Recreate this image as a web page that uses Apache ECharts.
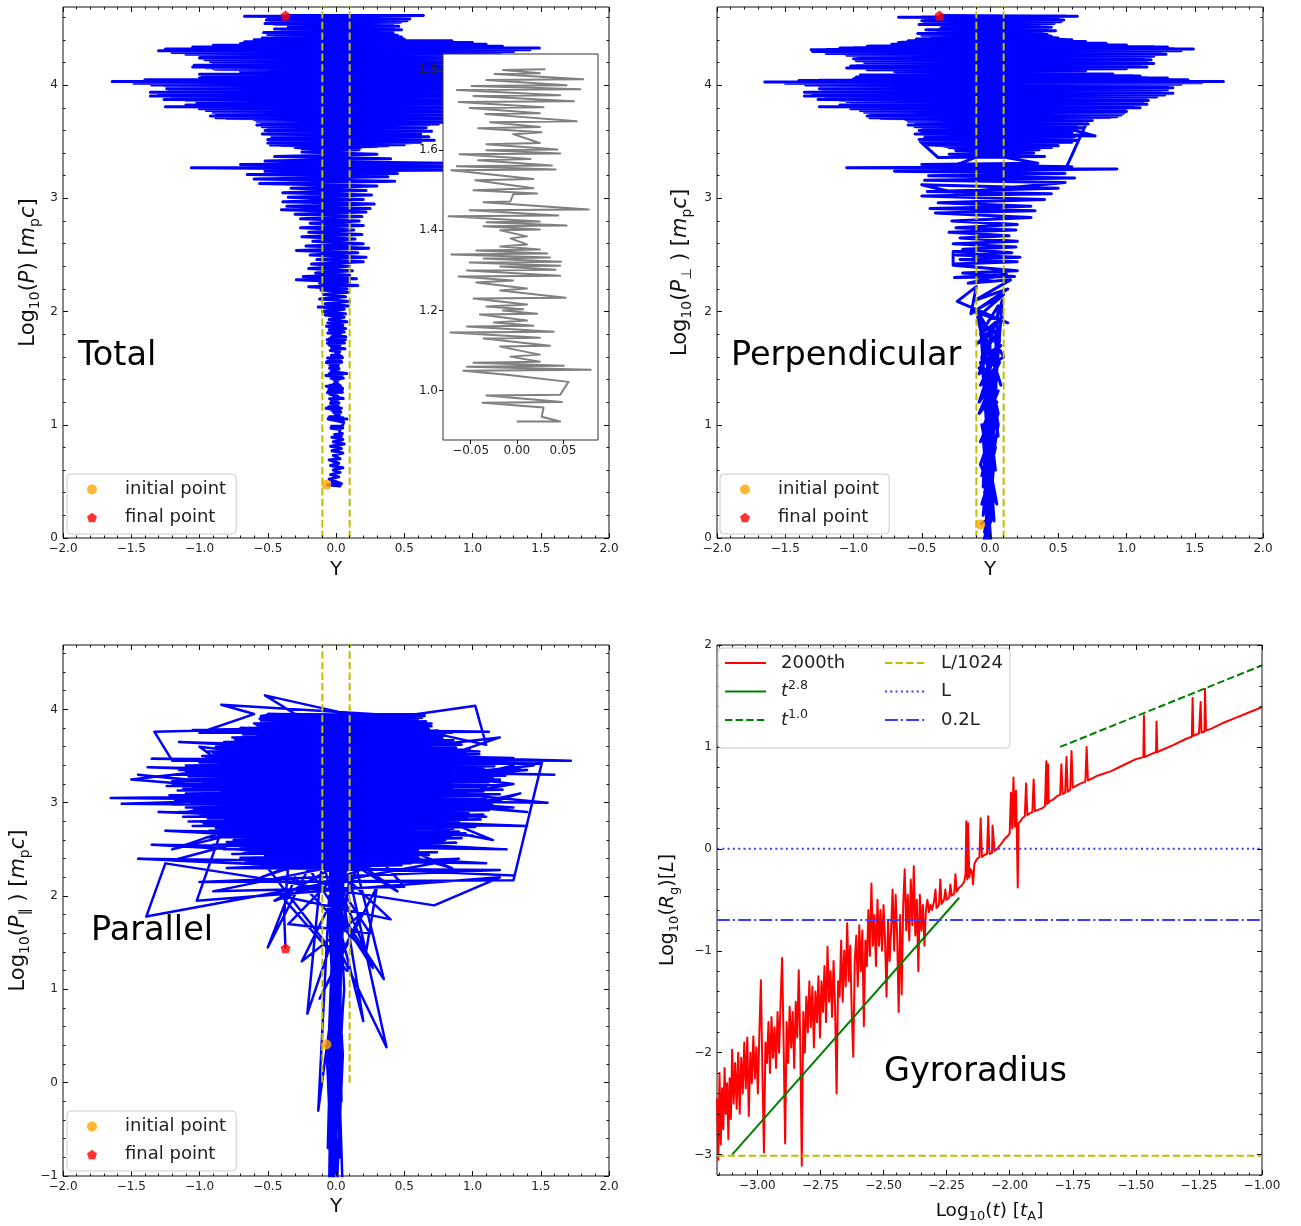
<!DOCTYPE html>
<html>
<head>
<meta charset="utf-8">
<script src="https://cdn.jsdelivr.net/npm/echarts@6/dist/echarts.min.js"></script>
<style>
html,body{margin:0;padding:0;background:#fff}
#chart{width:1301px;height:1226px}
</style>
</head>
<body>
<div id="chart"></div>
<script>
// ---- tick labels ----
const posTicks = [-2, -1.5, -1, -0.5, 0, 0.5, 1, 1.5, 2];
const momTicks = [0, 1, 2, 3, 4];
const parTicks = [-1, 0, 1, 2, 3, 4];
const timeTicks = [-3, -2.75, -2.5, -2.25, -2, -1.75, -1.5, -1.25, -1];
const gyroTicks = [-3, -2, -1, 0, 1, 2];
const zoomXTicks = [-0.05, 0, 0.05];
const zoomYTicks = [1.0, 1.2, 1.4, 1.6, 1.8];

// ---- trajectory in (Y, log10 P) : flat x,y pairs ----
const totalLow = [
-0.07,0.47, 0.03,0.46, -0.03,0.49, 0.04,0.48, -0.05,0.52, 0.02,0.54, -0.04,0.56, 0.03,0.58, -0.02,0.6, 0.05,0.62,
-0.04,0.64, 0.02,0.66, -0.05,0.69, 0.03,0.7, -0.02,0.73, 0.05,0.75, -0.03,0.77, 0.04,0.79, -0.04,0.81, 0.06,0.83,
-0.02,0.85, 0.05,0.87, -0.03,0.89, 0.04,0.9, -0.01,0.915
];
// stretch of the same trajectory shown in the zoom panel
const zoomPath = [
0.0,0.923, 0.047,0.923, 0.027,0.935, 0.029,0.958, -0.037,0.97, 0.049,0.972, -0.033,0.988, 0.047,0.99, 0.056,1.022, -0.011,1.04,
-0.058,1.05, 0.08,1.052, -0.054,1.06, 0.051,1.062, -0.047,1.07, 0.025,1.072, -0.007,1.085, 0.025,1.09, -0.018,1.11, 0.036,1.112,
-0.036,1.13, 0.025,1.132, -0.072,1.145, 0.04,1.147, -0.054,1.16, 0.018,1.162, -0.025,1.17, 0.011,1.175, -0.04,1.19, 0.022,1.192,
-0.015,1.2, 0.007,1.203, -0.033,1.21, 0.011,1.215, -0.047,1.23, 0.053,1.232, -0.018,1.25, 0.011,1.255, -0.044,1.27, -0.004,1.275,
-0.063,1.285, 0.047,1.287, -0.054,1.3, 0.042,1.302, -0.018,1.31, 0.047,1.312, -0.051,1.32, 0.048,1.322, -0.036,1.33, 0.036,1.332,
-0.071,1.34, 0.033,1.342, -0.044,1.35, 0.025,1.352, -0.018,1.36, 0.011,1.365, -0.007,1.38, 0.011,1.385, -0.018,1.4, 0.025,1.402,
-0.036,1.41, 0.054,1.412, -0.033,1.42, 0.025,1.422, -0.074,1.435, 0.045,1.437, -0.051,1.45, 0.078,1.452, -0.036,1.47, -0.007,1.472,
-0.004,1.49, 0.022,1.492, -0.047,1.5, 0.018,1.505, -0.045,1.525, 0.018,1.528, -0.071,1.55, 0.042,1.552, -0.065,1.56, 0.038,1.562,
-0.042,1.575, 0.015,1.578, -0.062,1.59, 0.047,1.592, -0.033,1.6, 0.044,1.602, -0.033,1.615, 0.025,1.618, -0.004,1.64, 0.027,1.645,
-0.042,1.655, 0.025,1.658, -0.029,1.67, 0.065,1.672, -0.034,1.69, 0.025,1.692, -0.051,1.705, 0.029,1.707, -0.063,1.72, 0.062,1.722,
-0.047,1.735, 0.047,1.737, -0.065,1.75, 0.069,1.752, -0.049,1.76, 0.054,1.762, -0.033,1.775, 0.072,1.777, -0.024,1.79, 0.025,1.792,
-0.015,1.8, 0.031,1.802
];
const totalMid = [
-0.06,1.81, 0.06,1.82, -0.05,1.84, 0.07,1.85, -0.07,1.87, 0.05,1.88, -0.06,1.9, 0.08,1.91, -0.05,1.93, 0.06,1.95,
-0.08,1.97, 0.07,1.98, -0.1,2.0, 0.06,2.02, -0.13,2.04, 0.09,2.05, -0.08,2.07, 0.1,2.09, -0.12,2.11, 0.07,2.13,
-0.09,2.15, 0.09,2.17, -0.11,2.19, 0.08,2.2, -0.2,2.22, 0.16,2.23, -0.12,2.25, 0.1,2.26, -0.29,2.28, 0.15,2.29,
-0.24,2.31, 0.1,2.32, -0.15,2.34, 0.12,2.36, -0.2,2.38, 0.1,2.4, -0.18,2.42, 0.2,2.44, -0.14,2.46, 0.22,2.48,
-0.19,2.5, 0.16,2.52, -0.29,2.54, 0.24,2.56, -0.22,2.58, 0.2,2.6, -0.17,2.62, 0.14,2.64, -0.25,2.66, 0.19,2.68,
-0.2,2.7, 0.13,2.72, -0.26,2.74, 0.2,2.76, -0.19,2.78, 0.17,2.8, -0.26,2.82, 0.19,2.84, -0.3,2.86, 0.22,2.88,
-0.4,2.9, 0.25,2.91, -0.36,2.93, 0.28,2.95, -0.39,2.97, 0.2,2.99, -0.35,3.01, 0.26,3.03, -0.39,3.05, 0.22,3.07,
-0.33,3.09, 0.3,3.11, -0.56,3.13, 0.43,3.15, -0.6,3.17, 0.38,3.19, -0.65,3.21, 0.45,3.22, -0.52,3.24, 0.92,3.25,
-1.06,3.27, 0.98,3.28, -0.7,3.3, 0.85,3.31, -0.52,3.33, 0.4,3.35, -0.45,3.37, 0.3,3.39, -0.25,3.41, 0.17,3.43
];
// first climb through the high-momentum band
const totalCore = [
-0.3,3.45, 0.3,3.458, -0.4,3.466, 0.5,3.474, -0.45,3.482, 0.55,3.49, -0.45,3.498, 0.6,3.506, -0.48,3.514, 0.6,3.522,
-0.46,3.53, 0.62,3.538, -0.45,3.546, 0.6,3.554, -0.48,3.562, 0.62,3.57, -0.47,3.578, 0.6,3.586, -0.5,3.594, 0.62,3.602,
-0.48,3.61, 0.64,3.618, -0.5,3.626, 0.65,3.634, -0.52,3.642, 0.68,3.65, -0.5,3.658, 0.7,3.666, -0.55,3.674, 0.75,3.682,
-0.58,3.69, 0.8,3.698, -0.8,3.706, 0.85,3.714, -0.85,3.722, 0.88,3.73, -0.85,3.738, 0.9,3.746, -0.88,3.754, 0.92,3.762,
-0.9,3.77, 0.95,3.778, -0.95,3.786, 1.0,3.794, -1.0,3.802, 1.02,3.81, -1.02,3.818, 1.05,3.826, -1.0,3.834, 1.05,3.842,
-1.02,3.85, 1.08,3.858, -1.1,3.866, 1.1,3.874, -1.15,3.882, 1.15,3.89, -1.2,3.898, 1.2,3.906, -1.25,3.914, 1.22,3.922,
-1.28,3.93, 1.25,3.938, -1.22,3.946, 1.28,3.954, -1.2,3.962, 1.3,3.97, -1.2,3.978, 1.32,3.986, -1.25,3.994, 1.35,4.002,
-1.3,4.01, 1.4,4.018, -1.35,4.026, 1.45,4.034, -1.25,4.042, 1.35,4.05, -0.98,4.058, 1.2,4.066, -0.95,4.074, 1.1,4.082,
-0.95,4.09, 1.05,4.098, -0.68,4.106, 0.9,4.114, -0.7,4.122, 0.9,4.13, -0.88,4.138, 1.0,4.146, -0.95,4.154, 1.05,4.162,
-0.98,4.17, 1.0,4.178, -0.9,4.186, 1.0,4.194, -0.9,4.202, 0.95,4.21, -0.92,4.218, 1.0,4.226, -0.95,4.234, 1.02,4.242,
-0.96,4.25, 1.05,4.258, -1.0,4.266, 1.1,4.274, -1.1,4.282, 1.2,4.29, -1.15,4.298, 1.25,4.306, -1.2,4.314, 1.3,4.322,
-1.0,4.33, 1.15,4.338, -0.88,4.346, 1.0,4.354, -0.7,4.362, 0.9,4.37, -0.65,4.378, 0.8,4.386, -0.55,4.394, 0.5,4.402,
-0.5,4.41, 0.45,4.418, -0.4,4.426, 0.42,4.434, -0.45,4.442, 0.4,4.45, -0.45,4.458, 0.38,4.466, -0.36,4.474, 0.42,4.482,
-0.4,4.49, 0.4,4.498, -0.34,4.506, 0.42,4.514, -0.34,4.522, 0.35,4.53, -0.45,4.538, 0.42,4.546, -0.46,4.554, 0.48,4.562,
-0.48,4.57, 0.5,4.578, -0.44,4.586, 0.48,4.594, -0.5,4.602, 0.55,4.61, 0.0,4.61
];
const totalHigh = [
-0.25,3.44, 0.18,3.448, -0.22,3.456, 0.38,3.464, -0.48,3.472, 0.3,3.48, -0.5,3.488, 0.62,3.496, -0.35,3.504, 0.72,3.512,
-0.5,3.52, 0.55,3.528, -0.47,3.536, 0.68,3.544, -0.42,3.552, 0.62,3.56, -0.54,3.568, 0.5,3.576, -0.48,3.584, 0.7,3.592,
-0.52,3.6, 0.6,3.608, -0.45,3.616, 0.66,3.624, -0.54,3.632, 0.58,3.64, -0.58,3.648, 0.75,3.656, -0.5,3.664, 0.9,3.672,
-0.58,3.68, 0.82,3.688, -0.6,3.696, 0.95,3.704, -0.88,3.712, 0.86,3.72, -0.92,3.728, 1.0,3.736, -0.86,3.744, 0.92,3.752,
-0.9,3.76, 1.05,3.768, -0.95,3.776, 0.98,3.784, -1.0,3.792, 1.1,3.8, -1.25,3.808, 1.02,3.816, -1.1,3.824, 1.15,3.832,
-0.98,3.84, 1.05,3.848, -1.02,3.856, 1.2,3.864, -1.26,3.872, 1.12,3.88, -1.18,3.888, 1.3,3.896, -1.36,3.904, 1.22,3.912,
-1.3,3.92, 1.35,3.928, -1.36,3.936, 1.28,3.944, -1.22,3.952, 1.42,3.96, -1.24,3.968, 1.38,3.976, -1.2,3.984, 1.5,3.992,
-1.35,4.0, 1.45,4.008, -1.48,4.016, 1.6,4.024, -1.64,4.032, 1.74,4.04, -1.4,4.048, 1.55,4.056, -1.0,4.064, 1.3,4.072,
-0.98,4.08, 1.2,4.088, -1.0,4.096, 1.1,4.104, -0.65,4.112, 0.92,4.12, -0.7,4.128, 1.0,4.136, -0.9,4.144, 1.16,4.152,
-1.05,4.16, 1.1,4.168, -1.04,4.176, 1.0,4.184, -0.9,4.192, 1.12,4.2, -0.92,4.208, 0.95,4.216, -0.96,4.224, 1.05,4.232,
-1.0,4.24, 1.1,4.248, -0.98,4.256, 1.12,4.264, -1.1,4.272, 1.2,4.28, -1.2,4.288, 1.3,4.296, -1.3,4.304, 1.42,4.312,
-1.25,4.32, 1.49,4.328, -1.05,4.336, 1.22,4.344, -0.9,4.352, 1.1,4.36, -0.7,4.368, 1.0,4.376, -0.67,4.384, 0.85,4.392,
-0.6,4.4, 0.5,4.408, -0.54,4.416, 0.48,4.424, -0.4,4.432, 0.45,4.44, -0.5,4.448, 0.42,4.456, -0.53,4.464, 0.38,4.472,
-0.36,4.48, 0.48,4.488, -0.45,4.496, 0.4,4.504, -0.35,4.512, 0.46,4.52, -0.34,4.528, 0.35,4.536, -0.52,4.544, 0.47,4.552,
-0.48,4.56, 0.52,4.568, -0.51,4.576, 0.54,4.584, -0.45,4.592, 0.5,4.6, -0.67,4.608, 0.64,4.616, -0.37,4.615
];

// ---- trajectory in (Y, log10 P_perp) ----
const perpLow = [
-0.07,0.12, 0.02,0.2, -0.05,-0.05, 0.03,0.35, -0.04,0.05, 0.02,0.5, -0.06,0.3, 0.03,0.65, -0.04,0.4, 0.04,0.8,
-0.06,0.55, 0.02,0.95, -0.05,0.7, 0.04,1.05, -0.07,0.85, 0.05,1.2, -0.05,0.98, 0.06,1.3, -0.08,1.1, 0.04,1.45,
-0.06,1.25, 0.07,1.55, -0.07,1.35, 0.05,1.65, -0.08,1.5, 0.08,1.7, -0.06,1.6, 0.07,1.85, -0.09,1.72, 0.09,1.95,
-0.07,1.8, 0.06,2.05, -0.03,0.1, 0.01,-0.1, -0.05,0.9, 0.03,0.15, -0.04,1.3, 0.04,0.6, -0.06,1.6, 0.01,0.4,
-0.07,1.9, 0.06,1.0, -0.05,0.2, 0.04,1.4, -0.08,1.2, 0.07,1.75, -0.04,0.75, 0.03,1.15, -0.07,1.55, 0.06,0.9,
-0.06,1.85, 0.08,1.35, -0.09,2.0, 0.1,1.6, -0.08,1.45, 0.09,2.1, -0.03,0.25, 0.0,1.7, -0.05,0.45, 0.05,1.5,
-0.02,-0.1, 0.03,0.7, -0.06,1.0, 0.05,0.3, -0.07,0.65, 0.06,1.1, -0.09,1.95, 0.1,2.15, -0.12,2.0, 0.13,1.9,
-0.24,2.09, -0.1,2.22, -0.14,1.98, 0.13,2.2, -0.11,2.1, 0.15,2.28, -0.16,2.25, 0.12,2.33
];
const perpMid = [
-0.26,2.3, 0.18,2.31, -0.2,2.34, 0.2,2.36, -0.27,2.41, -0.27,2.53, -0.12,2.53, -0.12,2.41, -0.27,2.42, 0.2,2.44,
-0.22,2.46, 0.22,2.48, -0.25,2.5, 0.16,2.52, -0.2,2.55, 0.19,2.57, -0.27,2.6, 0.2,2.62, -0.22,2.65, 0.14,2.67,
-0.3,2.7, 0.19,2.72, -0.25,2.74, 0.2,2.77, -0.28,2.8, 0.3,2.83, -0.4,2.87, 0.33,2.89, -0.44,2.91, 0.3,2.93,
-0.38,2.96, 0.4,2.99, -0.5,3.02, 0.45,3.04, -0.46,3.06, 0.5,3.09, -0.5,3.12, -0.26,3.05, 0.55,3.14, -0.48,3.16,
0.62,3.18, -0.45,3.2, 0.55,3.22, -0.7,3.24, 0.93,3.26, -1.05,3.27, 0.6,3.28, -0.5,3.3, 0.35,3.31, -0.51,3.5,
-0.38,3.36, 0.4,3.37, -0.3,3.39, 0.32,3.4, -0.25,3.42, 0.36,3.43
];
const perpCore = [
-0.3,3.45, 0.35,3.458, -0.4,3.466, 0.45,3.474, -0.45,3.482, 0.5,3.49, -0.45,3.498, 0.55,3.506, -0.48,3.514, 0.58,3.522,
-0.46,3.53, 0.6,3.538, -0.45,3.546, 0.58,3.554, -0.48,3.562, 0.6,3.57, -0.47,3.578, 0.6,3.586, -0.5,3.594, 0.6,3.602,
-0.48,3.61, 0.62,3.618, -0.5,3.626, 0.62,3.634, -0.52,3.642, 0.64,3.65, -0.5,3.658, 0.66,3.666, -0.55,3.674, 0.68,3.682,
-0.58,3.69, 0.7,3.698, -0.8,3.706, 0.88,3.714, -0.85,3.722, 0.92,3.73, -0.85,3.738, 0.94,3.746, -0.88,3.754, 0.95,3.762,
-0.9,3.77, 0.95,3.778, -0.95,3.786, 1.0,3.794, -1.0,3.802, 1.02,3.81, -1.02,3.818, 1.05,3.826, -1.0,3.834, 1.08,3.842,
-1.02,3.85, 1.1,3.858, -1.1,3.866, 1.12,3.874, -1.15,3.882, 1.15,3.89, -1.2,3.898, 1.2,3.906, -1.25,3.914, 1.24,3.922,
-1.28,3.93, 1.25,3.938, -1.22,3.946, 1.25,3.954, -1.2,3.962, 1.28,3.97, -1.2,3.978, 1.25,3.986, -1.25,3.994, 1.3,4.002,
-1.3,4.01, 1.38,4.018, -1.35,4.026, 1.42,4.034, -1.25,4.042, 1.3,4.05, -0.98,4.058, 1.15,4.066, -0.95,4.074, 1.05,4.082,
-0.95,4.09, 0.9,4.098, -0.68,4.106, 0.56,4.114, -0.7,4.122, 0.7,4.13, -0.88,4.138, 0.98,4.146, -0.95,4.154, 1.1,4.162,
-0.98,4.17, 1.05,4.178, -0.9,4.186, 1.12,4.194, -0.9,4.202, 1.1,4.21, -0.92,4.218, 1.12,4.226, -0.95,4.234, 1.1,4.242,
-0.96,4.25, 1.15,4.258, -1.0,4.266, 1.2,4.274, -1.1,4.282, 1.22,4.29, -1.15,4.298, 1.3,4.306, -1.2,4.314, 1.35,4.322,
-1.0,4.33, 1.2,4.338, -0.88,4.346, 1.0,4.354, -0.7,4.362, 0.85,4.37, -0.65,4.378, 0.7,4.386, -0.55,4.394, 0.55,4.402,
-0.5,4.41, 0.48,4.418, -0.4,4.426, 0.44,4.434, -0.45,4.442, 0.4,4.45, -0.45,4.458, 0.38,4.466, -0.36,4.474, 0.42,4.482,
-0.4,4.49, 0.4,4.498, -0.34,4.506, 0.42,4.514, -0.34,4.522, 0.36,4.53, -0.45,4.538, 0.44,4.546, -0.46,4.554, 0.48,4.562,
-0.48,4.57, 0.5,4.578, -0.44,4.586, 0.48,4.594, -0.5,4.602, 0.55,4.61, 0.0,4.61
];
const perpHigh = [
-0.26,3.44, 0.45,3.448, -0.3,3.456, 0.5,3.464, -0.45,3.472, 0.44,3.48, -0.5,3.488, 0.6,3.496, -0.4,3.504, 0.64,3.512,
-0.52,3.52, 0.5,3.528, -0.48,3.536, 0.62,3.544, -0.43,3.552, 0.66,3.56, -0.55,3.568, 0.58,3.576, -0.5,3.584, 0.77,3.55,
0.62,3.6, -0.52,3.6, 0.62,3.608, -0.46,3.616, 0.68,3.624, -0.55,3.632, 0.6,3.64, -0.6,3.648, 0.72,3.656, -0.52,3.664,
0.66,3.672, -0.6,3.68, 0.75,3.688, -0.62,3.696, 0.72,3.7, 0.55,3.25, -0.3,3.27, 0.6,3.7, -0.88,3.712, 0.93,3.72,
-0.9,3.728, 0.96,3.736, -0.85,3.744, 0.98,3.752, -0.92,3.76, 1.0,3.768, -0.95,3.776, 0.95,3.784, -1.02,3.792, 1.1,3.8,
-1.25,3.808, 1.05,3.816, -1.1,3.824, 1.15,3.832, -0.98,3.84, 1.12,3.848, -1.05,3.856, 1.16,3.864, -1.26,3.872, 1.13,3.88,
-1.2,3.888, 1.22,3.896, -1.36,3.904, 1.28,3.912, -1.3,3.92, 1.34,3.928, -1.36,3.936, 1.25,3.944, -1.22,3.952, 1.3,3.96,
-1.25,3.968, 1.34,3.976, -1.2,3.984, 1.28,3.992, -1.35,4.0, 1.4,4.008, -1.5,4.016, 1.55,4.02, -1.65,4.028, 1.71,4.032,
-1.4,4.04, 1.45,4.048, -1.0,4.056, 1.3,4.064, -0.98,4.072, 1.1,4.08, -0.66,4.088, 0.9,4.096, -0.65,4.104, 0.54,4.112,
-0.7,4.12, 0.7,4.128, -0.9,4.136, 1.0,4.144, -1.05,4.152, 1.15,4.16, -1.02,4.168, 1.1,4.176, -0.9,4.184, 1.2,4.192,
-0.92,4.2, 1.15,4.208, -0.98,4.216, 1.18,4.224, -1.0,4.232, 1.12,4.24, -0.96,4.248, 1.2,4.256, -1.05,4.264, 1.29,4.272,
-1.2,4.28, 1.25,4.288, -1.3,4.296, 1.4,4.304, -1.31,4.312, 1.49,4.32, -1.1,4.328, 1.3,4.336, -0.9,4.344, 1.0,4.352,
-0.72,4.36, 0.85,4.368, -0.67,4.376, 0.7,4.384, -0.6,4.392, 0.6,4.4, -0.54,4.408, 0.5,4.416, -0.42,4.424, 0.45,4.432,
-0.5,4.44, 0.42,4.448, -0.53,4.456, 0.38,4.464, -0.38,4.472, 0.48,4.48, -0.47,4.488, 0.4,4.496, -0.36,4.504, 0.45,4.512,
-0.35,4.52, 0.36,4.528, -0.52,4.536, 0.47,4.544, -0.48,4.552, 0.52,4.56, -0.5,4.568, 0.54,4.576, -0.45,4.584, 0.5,4.592,
-0.67,4.6, 0.64,4.608, -0.37,4.615
];

// ---- trajectory in (Y, log10 P_par) ----
const parColumn = [
-0.07,0.41, -0.02,-1.3, 0.03,1.5, -0.04,-0.6, 0.02,2.6, -0.03,-1.2, 0.05,0.8, -0.05,-0.3, 0.01,3.2, -0.02,-1.1,
0.04,2.1, -0.06,0.2, 0.03,3.6, -0.01,-0.9, 0.05,-1.2, -0.04,2.9, 0.02,-0.5, 0.06,3.9, -0.05,-1.1, 0.0,3.94,
0.04,-0.2, -0.03,1.2, 0.05,3.4, -0.06,-0.7, 0.02,3.8, -0.04,-1.3, 0.06,2.4, -0.02,0.5, 0.04,3.92, -0.05,1.8,
0.03,-0.8, -0.03,3.7, 0.06,1.0, -0.05,-1.2, 0.04,3.0, -0.01,-0.4, 0.05,1.7, -0.06,3.3, 0.01,-1.0, 0.05,0.3,
0.0,1.5, 0.37,0.38, 0.1,2.2, -0.13,-0.3, -0.05,2.0, 0.35,1.11, 0.15,2.3,
-0.21,0.74, -0.1,2.4, 0.2,0.66, 0.05,2.0, 0.27,1.23, -0.2,2.3, -0.5,1.45, -0.3,2.2, 0.22,1.4, 0.3,2.1,
-0.12,0.9, 0.18,1.8, -0.25,1.3, 0.12,2.4, -0.35,1.7, 0.25,1.6, -0.15,2.5, 0.4,1.75, -0.4,2.0, 0.08,1.2
];
const parCore = [
-0.5,2.3, 0.48,2.33, -0.62,2.31, 0.55,2.35, -0.45,2.34, 0.64,2.37, -0.66,2.36, 0.5,2.4, -0.55,2.38, 0.6,2.42,
-0.7,2.41, 0.68,2.44, -0.52,2.43, 0.74,2.47, -0.76,2.45, 0.6,2.49, -0.63,2.48, 0.8,2.52, -0.82,2.5, 0.72,2.54,
-0.7,2.53, 0.88,2.57, -0.9,2.55, 0.78,2.59, -0.8,2.58, 0.92,2.62, -0.75,2.6, 0.84,2.64, -0.95,2.63, 0.95,2.67,
-0.86,2.65, 0.9,2.69, -1.0,2.68, 0.86,2.72, -0.93,2.7, 1.02,2.74, -0.88,2.73, 0.95,2.77, -1.05,2.75, 0.9,2.79,
-0.97,2.78, 1.06,2.82, -1.08,2.8, 0.96,2.84, -0.94,2.83, 1.08,2.87, -1.12,2.85, 0.97,2.89, -1.0,2.88, 1.12,2.92,
-1.15,2.9, 1.0,2.94, -1.04,2.93, 1.15,2.97, -1.1,2.95, 1.03,2.99, -1.2,2.98, 1.18,3.02, -1.06,3.0, 1.1,3.04,
-1.18,3.03, 1.05,3.07, -1.08,3.05, 1.2,3.09, -1.22,3.08, 1.08,3.12, -1.1,3.1, 1.22,3.14, -1.16,3.13, 1.1,3.17,
-1.12,3.15, 1.25,3.19, -1.24,3.18, 1.12,3.22, -1.1,3.2, 1.2,3.24, -1.2,3.23, 1.15,3.27, -1.15,3.25, 1.24,3.29,
-1.08,3.28, 1.12,3.32, -1.2,3.3, 1.18,3.34, -1.1,3.33, 1.08,3.37, -1.15,3.35, 1.16,3.39, -1.05,3.38, 1.05,3.42,
-1.1,3.4, 1.12,3.44, -1.0,3.43, 1.0,3.47, -1.05,3.45, 0.96,3.49, -0.95,3.48, 1.05,3.52, -0.98,3.5, 0.95,3.54,
-0.9,3.53, 0.98,3.57, -0.94,3.55, 0.88,3.59, -0.85,3.58, 0.92,3.62, -0.88,3.6, 0.84,3.64, -0.8,3.63, 0.86,3.67,
-0.82,3.65, 0.78,3.69, -0.74,3.68, 0.8,3.72, -0.76,3.7, 0.72,3.74, -0.68,3.73, 0.75,3.77, -0.7,3.75, 0.68,3.79,
-0.62,3.78, 0.7,3.82, -0.64,3.8, 0.64,3.84, -0.58,3.83, 0.66,3.87, -0.6,3.85, 0.6,3.89, -0.55,3.88, 0.63,3.91,
-0.56,3.9, 0.65,3.93, -0.55,3.92, 0.62,3.95, -0.5,3.94
];
const parCloud = [
-0.55,3.93, 0.62,3.94, -0.5,3.95, 0.55,3.92, -0.48,3.9, 0.65,3.95, -0.4,3.94, 0.5,3.93, -0.84,4.05, -0.6,3.95,
-1.0,3.75, 1.12,3.76, -0.7,3.8, 0.85,3.75, -1.05,3.78, 0.6,3.83, -1.33,3.76, -1.2,3.45, 1.3,3.48, -0.9,3.55,
1.72,3.45, -1.35,3.47, 1.5,3.42, -1.1,3.4, 1.6,3.3, -1.38,3.38, 1.2,3.25, -0.95,3.35, 1.55,3.0, -1.65,3.05,
0.9,3.1, -1.57,2.99, 1.3,2.95, -1.2,3.2, 1.1,2.85, -1.3,2.9, 1.4,2.75, -1.0,2.8, 1.0,2.65, -1.25,2.7,
1.25,2.5, -1.35,2.55, 1.1,2.35, -1.45,2.4, 1.3,2.22, -1.2,2.38, 1.51,3.44, 1.3,2.17, -1.0,2.15, 1.2,2.28,
-0.8,2.3, 0.9,2.4, -1.39,1.78, -1.25,2.35, 0.72,1.9, 1.2,2.2, -1.02,1.95, -0.6,3.7, 1.02,4.04, 1.1,3.62,
-0.52,4.15, -0.3,3.95, 0.75,3.65, -0.8,3.6, 1.05,3.55, -1.15,3.65, 0.8,3.5, -0.75,3.3, 1.4,3.35, -0.65,3.1,
1.45,3.4, -0.9,2.95, 0.95,3.2, -0.6,2.6, 1.25,3.05, -0.7,2.45, 1.35,3.1, -0.55,2.2, 0.7,2.9, -0.45,1.95,
0.6,2.5, -0.9,2.05, 0.5,2.1, -0.35,3.5, 1.15,2.6, -0.3,3.0, 0.85,2.3, -1.1,3.1, 0.55,3.0, -1.45,3.3,
1.4,2.9, -1.5,3.25, 1.2,3.7, -1.2,2.5, 1.3,3.4, -0.85,2.65, 1.3,3.2, -1.0,3.6, 0.45,2.05, -0.5,2.9,
0.7,3.3, -1.1,2.9, 1.0,3.0, -0.7,3.45, 1.1,3.35, -0.95,3.15, 0.9,2.8, -0.6,3.85, 0.7,3.85, -0.45,3.6,
0.5,3.7, -0.8,3.2, 0.8,2.6, -0.65,2.85, 0.6,3.15, -0.55,3.4, 0.65,3.5, -0.4,2.7, 0.4,2.8, -0.5,3.6,
0.45,3.45, -0.35,3.25, 0.5,3.1, -0.6,3.3, 0.35,3.6, -0.45,3.05, 0.55,2.7, -0.35,2.5, 0.4,3.3, -0.25,2.8,
0.3,2.6, -0.4,3.75, 0.45,3.9, -0.3,3.5, 0.3,3.2, -0.2,2.4, 0.2,2.9, -0.3,3.2, -0.38,1.8, -0.37,1.44
];

// ---- gyroradius vs time : flat (log10 t, log10 Rg) pairs ----
const gyroCurve = [
-3.16,-2.45, -3.155,-3.05, -3.15,-2.2, -3.145,-2.9, -3.14,-2.35, -3.135,-2.75, -3.13,-2.15, -3.125,-2.6, -3.12,-2.3, -3.115,-2.85,
-3.11,-2.25, -3.105,-2.65, -3.1,-1.97, -3.094,-2.5, -3.088,-2.1, -3.082,-2.55, -3.076,-2.0, -3.07,-2.6, -3.064,-2.05, -3.058,-2.4,
-3.052,-1.9, -3.046,-2.35, -3.04,-1.85, -3.034,-2.62, -3.028,-2.0, -3.022,-2.3, -3.016,-1.84, -3.01,-2.25, -3.004,-1.95, -2.998,-2.4,
-2.992,-1.8, -2.986,-1.29, -2.98,-2.2, -2.974,-2.98, -2.968,-1.9, -2.962,-2.1, -2.956,-1.7, -2.95,-2.2, -2.944,-1.65, -2.938,-2.05,
-2.932,-1.75, -2.926,-2.15, -2.92,-1.6, -2.914,-2.0, -2.908,-1.5, -2.902,-1.07, -2.896,-1.9, -2.89,-2.89, -2.884,-1.7, -2.878,-2.1,
-2.872,-1.55, -2.866,-1.95, -2.86,-1.6, -2.854,-2.15, -2.848,-1.5, -2.842,-1.85, -2.836,-1.19, -2.83,-1.9, -2.824,-3.11, -2.818,-1.6,
-2.812,-2.0, -2.806,-1.45, -2.8,-1.8, -2.794,-1.3, -2.788,-1.75, -2.782,-1.35, -2.776,-1.95, -2.77,-1.4, -2.764,-1.7, -2.758,-1.25,
-2.752,-1.85, -2.746,-1.3, -2.74,-1.6, -2.734,-1.15, -2.728,-1.7, -2.722,-0.96, -2.716,-1.5, -2.71,-1.2, -2.704,-1.65, -2.698,-1.1,
-2.692,-1.55, -2.686,-2.4, -2.68,-1.3, -2.674,-1.45, -2.668,-0.9, -2.662,-1.5, -2.656,-1.0, -2.65,-1.35, -2.644,-0.73, -2.638,-1.3,
-2.632,-0.95, -2.626,-1.6, -2.62,-2.04, -2.614,-1.1, -2.608,-0.85, -2.602,-1.35, -2.596,-0.75, -2.59,-1.2, -2.584,-0.8, -2.578,-1.74,
-2.572,-0.9, -2.566,-1.15, -2.56,-0.6, -2.554,-1.05, -2.548,-0.34, -2.542,-0.95, -2.536,-0.65, -2.53,-1.15, -2.524,-0.5, -2.518,-0.95,
-2.512,-0.6, -2.506,-1.0, -2.5,-0.55, -2.494,-0.9, -2.488,-1.45, -2.482,-0.7, -2.476,-1.1, -2.47,-0.8, -2.464,-0.4, -2.458,-1.0,
-2.452,-0.45, -2.446,-0.85, -2.44,-1.6, -2.434,-0.65, -2.428,-1.43, -2.422,-0.55, -2.416,-0.2, -2.41,-0.8, -2.404,-0.45, -2.398,-0.9,
-2.392,-0.3, -2.386,-0.75, -2.38,-0.17, -2.374,-0.85, -2.368,-0.5, -2.362,-1.2, -2.356,-0.45, -2.35,-0.8, -2.344,-0.55, -2.338,-0.95,
-2.332,-0.6, -2.326,-0.5, -2.32,-0.62, -2.314,-0.55, -2.308,-0.6, -2.3,-0.52, -2.294,-0.4, -2.29,-0.58, -2.28,-0.55, -2.275,-0.3,
-2.27,-0.54, -2.26,-0.5, -2.255,-0.4, -2.25,-0.5, -2.24,-0.48, -2.235,-0.35, -2.23,-0.46, -2.22,-0.44, -2.215,-0.25, -2.21,-0.42,
-2.2,-0.38, -2.19,-0.36, -2.18,-0.32, -2.175,-0.25, -2.172,0.27, -2.168,-0.3, -2.165,0.25, -2.16,-0.28, -2.155,-0.2, -2.15,-0.22,
-2.145,-0.35, -2.14,-0.15, -2.13,-0.1, -2.12,-0.08, -2.115,0.3, -2.11,-0.08, -2.1,-0.06, -2.09,-0.05, -2.085,0.32, -2.08,-0.05,
-2.07,-0.04, -2.068,0.23, -2.06,-0.02, -2.05,0.0, -2.04,0.03, -2.03,0.06, -2.02,0.1, -2.01,0.12, -2.0,0.15, -1.995,0.55,
-1.99,0.2, -1.985,0.7, -1.98,0.22, -1.975,0.57, -1.972,0.2, -1.968,-0.38, -1.965,0.25, -1.955,0.28, -1.95,0.3, -1.94,0.32,
-1.935,0.64, -1.93,0.33, -1.92,0.35, -1.91,0.36, -1.905,0.68, -1.9,0.37, -1.88,0.39, -1.87,0.4, -1.86,0.42, -1.855,0.86,
-1.852,0.44, -1.848,0.83, -1.845,0.45, -1.84,0.47, -1.83,0.48, -1.82,0.5, -1.81,0.52, -1.8,0.53, -1.795,0.83, -1.79,0.54,
-1.78,0.55, -1.775,0.9, -1.77,0.56, -1.76,0.58, -1.755,0.96, -1.75,0.6, -1.72,0.64, -1.7,0.66, -1.695,1.0, -1.69,0.67,
-1.65,0.72, -1.6,0.76, -1.55,0.82, -1.5,0.88, -1.47,0.9, -1.468,1.31, -1.465,0.9, -1.44,0.93, -1.42,0.95, -1.418,1.25,
-1.415,0.95, -1.35,1.02, -1.3,1.08, -1.278,1.1, -1.275,1.48, -1.272,1.11, -1.25,1.13, -1.243,1.44, -1.24,1.14, -1.228,1.15,
-1.226,1.57, -1.222,1.16, -1.2,1.18, -1.15,1.24, -1.1,1.29, -1.05,1.34, -1.0,1.39
];
const fitSteep = [-3.1, -3.0, -2.2, -0.48];   // t^2.8 guide: x0,y0,x1,y1
const fitLinear = [-1.8, 1.0, -1.0, 1.8];     // t^1.0 guide
const gridScale = -3.0103;                    // log10(L/1024)
const boxScale = 0.0;                         // log10(L)
const fifthScale = -0.699;                    // log10(0.2L)
const bandEdges = [-0.1, 0.1];

// ---- helpers ----
const FONT = 'DejaVu Sans';
const MINUS = '\u2212';
const fmt = d => v => (v < -1e-9 ? MINUS : '') + Math.abs(v).toFixed(d);
function steps(a, b, s) { const n = Math.round((b - a) / s); const o = []; for (let i = 0; i <= n; i++) o.push(+(a + i * s).toFixed(4)); return o; }
function pairs(flat) { const o = []; for (let i = 0; i < flat.length; i += 2) o.push([flat[i], flat[i + 1]]); return o; }

function nameStyle(size) {
  const sub = Math.round(size * 0.68);
  return { fontFamily: FONT, fontSize: size, color: '#111', lineHeight: size + 6,
    rich: {
      s: { fontSize: sub, lineHeight: sub, verticalAlign: 'bottom', fontFamily: FONT },
      i: { fontStyle: 'italic', fontFamily: FONT, fontSize: size, lineHeight: size + 6 }
    } };
}

const xAxes = [], yAxes = [];
function axis(gi, pos, s, ticks, len, withLabel, o) {
  const a = {
    type: 'value', gridIndex: gi, position: pos, min: s.min, max: s.max, z: o.z,
    axisLine: { show: false, onZero: false }, splitLine: { show: false },
    axisTick: { show: true, inside: o.inside, length: len, customValues: ticks, lineStyle: { color: '#111', width: 1 } },
    axisLabel: { show: withLabel, customValues: s.major, formatter: s.fmt, fontFamily: FONT, fontSize: 12, color: '#222', margin: o.margin }
  };
  if (withLabel && s.name) {
    Object.assign(a, { name: s.name, nameLocation: 'middle', nameGap: s.gap, nameTextStyle: nameStyle(s.size) });
    if (pos === 'left') a.nameRotate = 90;
  }
  return a;
}
function frame(gi, xs, ys, o) {
  const ix = xAxes.length, iy = yAxes.length;
  xAxes.push(axis(gi, 'bottom', xs, xs.major, o.major, true, o));
  yAxes.push(axis(gi, 'left', ys, ys.major, o.major, true, o));
  if (o.mirror) {
    xAxes.push(axis(gi, 'bottom', xs, xs.minor, o.minor, false, o));
    yAxes.push(axis(gi, 'left', ys, ys.minor, o.minor, false, o));
    xAxes.push(axis(gi, 'top', xs, xs.major, o.major, false, o));
    xAxes.push(axis(gi, 'top', xs, xs.minor, o.minor, false, o));
    yAxes.push(axis(gi, 'right', ys, ys.major, o.major, false, o));
    yAxes.push(axis(gi, 'right', ys, ys.minor, o.minor, false, o));
  }
  return { x: ix, y: iy };
}

const mainOpt = { inside: true, major: 5, minor: 2.5, mirror: true, z: 5, margin: 5 };
const posAxis = (gap) => ({ min: -2, max: 2, major: posTicks, minor: steps(-2, 2, 0.1), fmt: fmt(1), name: 'Y', gap: gap, size: 20 });
const f0 = frame(0, posAxis(19), { min: 0, max: 4.69, major: momTicks, minor: steps(0, 4.6, 0.2), fmt: fmt(0),
  name: 'Log{s|10}({i|P}) [{i|m}{s|p}{i|c}]', gap: 21, size: 21 }, mainOpt);
const f1 = frame(1, posAxis(19), { min: 0, max: 4.69, major: momTicks, minor: steps(0, 4.6, 0.2), fmt: fmt(0),
  name: 'Log{s|10}({i|P}{s|\u22A5} ) [{i|m}{s|p}{i|c}]', gap: 23, size: 21 }, mainOpt);
const f2 = frame(2, posAxis(18), { min: -1, max: 4.69, major: parTicks, minor: steps(-1, 4.6, 0.2), fmt: fmt(0),
  name: 'Log{s|10}({i|P}{s|\u2225} ) [{i|m}{s|p}{i|c}]', gap: 31, size: 21 }, mainOpt);
const f3 = frame(3, { min: -3.16, max: -1, major: timeTicks, minor: steps(-3.15, -1, 0.05), fmt: fmt(2),
  name: 'Log{s|10}({i|t}) [{i|t}{s|A}]', gap: 24, size: 18.5 },
  { min: -3.2, max: 2, major: gyroTicks, minor: steps(-3.2, 2, 0.2), fmt: fmt(0),
  name: 'Log{s|10}({i|R}{s|g})[{i|L}]', gap: 36, size: 19 }, mainOpt);
const f4 = frame(4, { min: -0.08, max: 0.088, major: zoomXTicks, fmt: fmt(2) },
  { min: 0.877, max: 1.84, major: zoomYTicks, fmt: fmt(1) },
  { inside: false, major: 4, mirror: false, z: 12, margin: 5 });

const BLUE = '#0000ff', YEL = '#bfbf00';
const pentagon = 'path://M0,-10L9.51,-3.09L5.88,8.09L-5.88,8.09L-9.51,-3.09Z';

function trace(f, data, color, width, z) {
  return { type: 'line', xAxisIndex: f.x, yAxisIndex: f.y, data: data, symbol: 'none', showSymbol: false,
    lineStyle: { color: color, width: width, join: 'round' }, itemStyle: { color: color }, z: z || 2, silent: true, animation: false };
}
function band(f, top) {
  return bandEdges.map(x => ({ type: 'line', xAxisIndex: f.x, yAxisIndex: f.y, data: [[x, 0], [x, top]], symbol: 'none',
    lineStyle: { color: YEL, width: 2, type: [7.4, 3.2] }, z: 3, silent: true }));
}
function ends(f, path) {
  return [
    { type: 'scatter', name: 'initial point', xAxisIndex: f.x, yAxisIndex: f.y, data: [path[0]], symbol: 'circle', symbolSize: 10,
      itemStyle: { color: '#ffa500' }, z: 6, silent: true },
    { type: 'scatter', name: 'final point', xAxisIndex: f.x, yAxisIndex: f.y, data: [path[path.length - 1]], symbol: pentagon, symbolSize: 10,
      itemStyle: { color: '#ff0000' }, z: 6, silent: true }
  ];
}

const totalPath = pairs(totalLow.concat(zoomPath, totalMid, totalCore, totalHigh));
const perpPath = pairs(perpLow.concat(perpMid, perpCore, perpHigh));
const parPath = pairs(parColumn.concat(parCore, parCloud));

const series = [];
series.push(trace(f0, totalPath, BLUE, 3.0), ...band(f0, 4.7), ...ends(f0, totalPath));
series.push(trace(f1, perpPath, BLUE, 3.0), ...band(f1, 4.7), ...ends(f1, perpPath));
series.push(trace(f2, parPath, BLUE, 2.5), ...band(f2, 4.7), ...ends(f2, parPath));
series.push(trace(f4, pairs(zoomPath), '#808080', 2, 11));

// gyroradius panel
const gx = [-3.16, -1.0];
function guide(name, data, color, type) {
  return { type: 'line', name: name, xAxisIndex: f3.x, yAxisIndex: f3.y, data: data, symbol: 'none',
    lineStyle: { color: color, width: 2, type: type }, itemStyle: { color: color }, z: 3, silent: true };
}
series.push(
  Object.assign(trace(f3, pairs(gyroCurve), '#ff0000', 2), { name: '2000th' }),
  guide('t2.8', pairs(fitSteep), '#008000', 'solid'),
  guide('t1.0', pairs(fitLinear), '#008000', [7.4, 3.2]),
  guide('L/1024', gx.map(x => [x, gridScale]), YEL, [7.4, 3.2]),
  guide('L', gx.map(x => [x, boxScale]), '#3b3bff', [2, 3.3]),
  guide('0.2L', gx.map(x => [x, fifthScale]), '#3b3bff', [12.8, 3.2, 2, 3.2])
);

const legendBox = { backgroundColor: 'rgba(255,255,255,0.8)', borderColor: '#cccccc', borderWidth: 1, borderRadius: 4 };
function pointLegend(left, top) {
  return Object.assign({
    left: left, top: top, orient: 'vertical', data: ['initial point', 'final point'], selectedMode: false,
    itemWidth: 10, itemHeight: 10, itemGap: 7, padding: [5, 10, 6, 20], z: 20,
    textStyle: { fontFamily: FONT, fontSize: 18, color: '#222', lineHeight: 21, padding: [0, 0, 0, 23] }
  }, legendBox);
}
const gyroText = {
  fontFamily: FONT, fontSize: 18, color: '#222', lineHeight: 24, padding: [0, 0, 0, 10],
  rich: { i: { fontStyle: 'italic', fontSize: 18, lineHeight: 24, fontFamily: FONT }, p: { fontSize: 12.5, lineHeight: 12, verticalAlign: 'top', fontFamily: FONT } }
};
const gyroFmt = n => n === 't2.8' ? '{i|t}{p|2.8}' : n === 't1.0' ? '{i|t}{p|1.0}' : n;
function lineLegend(left, names) {
  return { left: left, top: 648, orient: 'vertical', data: names, selectedMode: false, itemWidth: 41, itemHeight: 14,
    itemGap: 4.5, padding: [3, 0, 0, 6], z: 21, textStyle: gyroText, formatter: gyroFmt,
    itemStyle: { opacity: 0 } };
}

const titleFont = '33.5px "DejaVu Sans"';
const option = {
  animation: false,
  backgroundColor: '#ffffff',
  grid: [
    { left: 63, top: 7, width: 546, height: 531, show: true, borderColor: '#111', borderWidth: 1, backgroundColor: 'transparent' },
    { left: 717, top: 7, width: 546, height: 531, show: true, borderColor: '#111', borderWidth: 1, backgroundColor: 'transparent' },
    { left: 63, top: 645, width: 546, height: 531, show: true, borderColor: '#111', borderWidth: 1, backgroundColor: 'transparent' },
    { left: 717, top: 645, width: 545, height: 530, show: true, borderColor: '#111', borderWidth: 1, backgroundColor: 'transparent' },
    { left: 443, top: 54, width: 155, height: 386, show: true, borderColor: '#333', borderWidth: 1, backgroundColor: '#ffffff', z: 10 }
  ],
  xAxis: xAxes,
  yAxis: yAxes,
  legend: [
    pointLegend(67, 474),
    pointLegend(720, 474),
    pointLegend(67, 1111),
    lineLegend(718, ['2000th', 't2.8', 't1.0']),
    lineLegend(878, ['L/1024', 'L', '0.2L'])
  ],
  graphic: [
    { type: 'rect', shape: { x: 718, y: 648, width: 292, height: 100, r: 4 }, style: { fill: 'rgba(255,255,255,0.8)', stroke: '#cccccc', lineWidth: 1 }, z: 19, silent: true },
    { type: 'text', x: 78, y: 356, style: { text: 'Total', font: titleFont, fill: '#000', verticalAlign: 'middle' }, z: 20, silent: true },
    { type: 'text', x: 731, y: 356, style: { text: 'Perpendicular', font: titleFont, fill: '#000', verticalAlign: 'middle' }, z: 20, silent: true },
    { type: 'text', x: 91, y: 931, style: { text: 'Parallel', font: titleFont, fill: '#000', verticalAlign: 'middle' }, z: 20, silent: true },
    { type: 'text', x: 884, y: 1072, style: { text: 'Gyroradius', font: titleFont, fill: '#000', verticalAlign: 'middle' }, z: 20, silent: true }
  ],
  series: series
};

const chart = echarts.init(document.getElementById('chart'), null, { renderer: 'canvas' });
chart.setOption(option);
</script>
</body>
</html>
